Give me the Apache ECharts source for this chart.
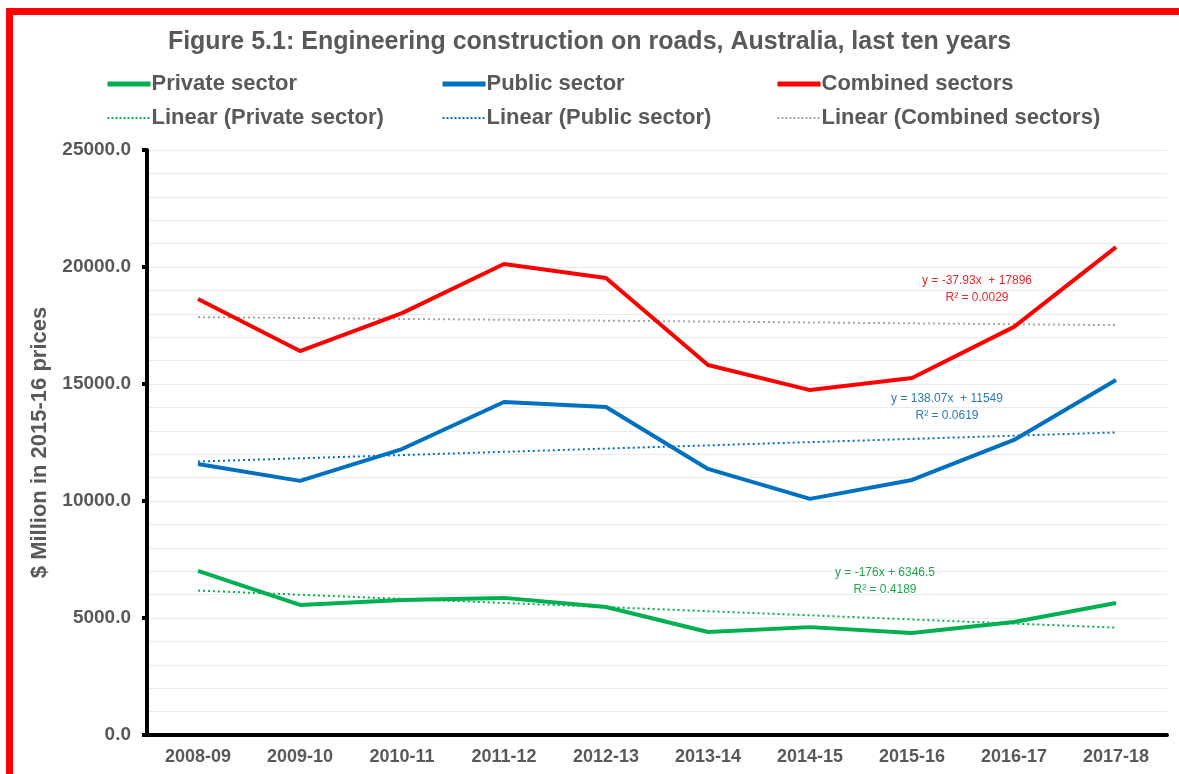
<!DOCTYPE html>
<html>
<head>
<meta charset="utf-8">
<script src="https://cdn.jsdelivr.net/npm/echarts@6/dist/echarts.min.js"></script>
<style>
html,body{margin:0;padding:0;background:#fff;}
#chart{width:1179px;height:774px;}
</style>
</head>
<body>
<div id="chart"></div>
<script>
const categories = ['2008-09','2009-10','2010-11','2011-12','2012-13','2013-14','2014-15','2015-16','2016-17','2017-18'];
const privateSector = [7010, 5560, 5770, 5860, 5470, 4400, 4610, 4360, 4830, 5640];
const publicSector = [11580, 10860, 12220, 14230, 14020, 11370, 10090, 10900, 12610, 15170];
const combinedSectors = [18630, 16410, 18030, 20130, 19530, 15810, 14740, 15260, 17440, 20850];
const linearPrivate = [6170.5, 5994.5, 5818.5, 5642.5, 5466.5, 5290.5, 5114.5, 4938.5, 4762.5, 4586.5];
const linearPublic = [11687.1, 11825.1, 11963.2, 12101.3, 12239.4, 12377.4, 12515.5, 12653.6, 12791.6, 12929.7];
const linearCombined = [17858.1, 17820.1, 17782.2, 17744.3, 17706.4, 17668.4, 17630.5, 17592.6, 17554.6, 17516.7];
const yTicks = { min: 0, max: 25000, interval: 5000 };
const trendNotes = [
  { lines: ['y = -37.93x  + 17896', 'R² = 0.0029'], color: '#e8262b', x: 977, y: 281 },
  { lines: ['y = 138.07x  + 11549', 'R² = 0.0619'], color: '#2a7ab8', x: 947, y: 399 },
  { lines: ['y = -176x + 6346.5', 'R² = 0.4189'], color: '#1fa552', x: 885, y: 573 }
];

const chart = echarts.init(document.getElementById('chart'));
const txt = '#595959';
const font = '"Liberation Sans", Arial, sans-serif';

function solid(name, data, color) {
  return { name, type: 'line', data, symbol: 'none', smooth: false,
    lineStyle: { color, width: 4 }, itemStyle: { color }, z: 5 };
}
function dotted(name, data, color) {
  return { name, type: 'line', data, symbol: 'none',
    lineStyle: { color, width: 2, type: [2, 3] }, itemStyle: { color }, z: 3 };
}
const legendBase = {
  orient: 'vertical', top: 68, itemWidth: 43, itemHeight: 12, itemGap: 12,
  itemStyle: { opacity: 0 },
  textStyle: { color: txt, fontSize: 22, fontWeight: 'bold', fontFamily: font, padding: [0, 0, 0, -4] },
  selectedMode: false
};
function legendData(solidName, dotName, color, dotColor) {
  return [
    { name: solidName, lineStyle: { color, width: 5, type: 'solid' } },
    { name: dotName, lineStyle: { color: dotColor, width: 2, type: [2, 2] } }
  ];
}

const graphics = [
  { type: 'rect', shape: { x: 9.5, y: 11.5, width: 1250, height: 850 }, style: { fill: 'none', stroke: '#ff0000', lineWidth: 7 }, z: 100, silent: true }
];
trendNotes.forEach(n => {
  n.lines.forEach((l, i) => {
    graphics.push({ type: 'text', x: n.x, y: n.y + i * 17, style: { text: l, fill: n.color, font: '12px "Liberation Sans", Arial, sans-serif', textAlign: 'center', textVerticalAlign: 'middle' }, z: 10 });
  });
});

chart.setOption({
  backgroundColor: '#ffffff',
  animation: false,
  title: { text: 'Figure 5.1: Engineering construction on roads, Australia, last ten years', left: 'center', top: 25,
    textStyle: { color: txt, fontSize: 25, fontWeight: 'bold', fontFamily: font } },
  legend: [
    Object.assign({}, legendBase, { left: 100, data: legendData('Private sector', 'Linear (Private sector)', '#00b050', '#00b050') }),
    Object.assign({}, legendBase, { left: 435, data: legendData('Public sector', 'Linear (Public sector)', '#0070c0', '#0070c0') }),
    Object.assign({}, legendBase, { left: 770, data: legendData('Combined sectors', 'Linear (Combined sectors)', '#ff0000', '#a6a6a6') })
  ],
  grid: { left: 147, right: 12, top: 150, bottom: 39 },
  xAxis: {
    type: 'category', data: categories, boundaryGap: true,
    axisLine: { lineStyle: { color: '#000', width: 4 } },
    axisTick: { show: false },
    axisLabel: { color: txt, fontSize: 18, fontWeight: 'bold', fontFamily: font, margin: 13 },
    splitLine: { show: false }
  },
  yAxis: {
    type: 'value', min: yTicks.min, max: yTicks.max, interval: yTicks.interval,
    name: '$ Million in 2015-16 prices', nameLocation: 'middle', nameGap: 88,
    nameTextStyle: { color: txt, fontSize: 22, fontWeight: 'bold', fontFamily: font },
    axisLine: { show: true, lineStyle: { color: '#000', width: 4 } },
    axisTick: { show: true, length: 5, lineStyle: { color: '#000', width: 4 } },
    axisLabel: { color: txt, fontSize: 19, fontWeight: 'bold', fontFamily: font, margin: 16,
      formatter: v => v.toFixed(1) },
    splitLine: { show: true, lineStyle: { color: '#ebebeb', width: 1 } },
    minorTick: { show: false, splitNumber: 5 },
    minorSplitLine: { show: true, lineStyle: { color: '#ebebeb', width: 1 } }
  },
  graphic: graphics,
  series: [
    solid('Private sector', privateSector, '#00b050'),
    solid('Public sector', publicSector, '#0070c0'),
    solid('Combined sectors', combinedSectors, '#ff0000'),
    dotted('Linear (Private sector)', linearPrivate, '#00b050'),
    dotted('Linear (Public sector)', linearPublic, '#0070c0'),
    dotted('Linear (Combined sectors)', linearCombined, '#a6a6a6')
  ]
});
</script>
</body>
</html>
